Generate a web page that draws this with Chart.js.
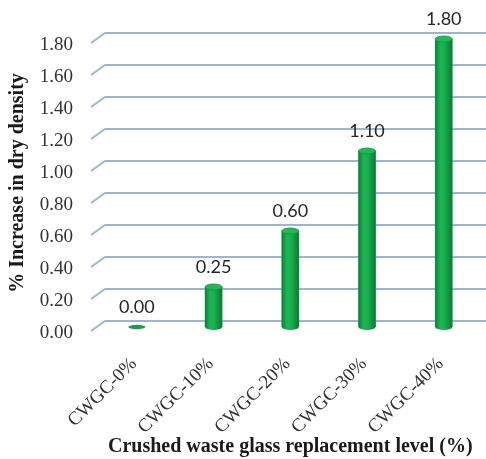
<!DOCTYPE html>
<html>
<head>
<meta charset="utf-8">
<script src="https://cdn.jsdelivr.net/npm/chart.js@4.4.1/dist/chart.umd.min.js"></script>
<style>
  html, body { margin: 0; padding: 0; background: #ffffff; }
  #wrap { width: 486px; height: 459px; }
</style>
</head>
<body>
<div id="wrap"><canvas id="c" width="486" height="459"></canvas></div>
<script>
// Dry density increase for each crushed waste glass replacement level
const categories = ['CWGC-0%', 'CWGC-10%', 'CWGC-20%', 'CWGC-30%', 'CWGC-40%'];
const densityIncrease = [0.00, 0.25, 0.60, 1.10, 1.80];
const yMin = 0;
const yMax = 1.8;
const yStep = 0.2;

const SERIF = '"Liberation Serif", "Times New Roman", serif';
const SANS = 'Lato, "Open Sans", sans-serif';

// Back-wall gridlines with the short receding stub at the left (3D floor look)
const wallGrid = {
  id: 'wallGrid',
  beforeDatasetsDraw(chart) {
    const { ctx, chartArea, scales } = chart;
    const ys = scales.y;
    ctx.save();
    ctx.strokeStyle = '#9db4d6';
    ctx.lineWidth = 2;
    ctx.lineJoin = 'round';
    ys.ticks.forEach(t => {
      const p = ys.getPixelForValue(t.value);
      const back = p - 6;
      ctx.beginPath();
      ctx.moveTo(chartArea.left - 7.5, p + 4);
      ctx.lineTo(chartArea.left + 6.5, back);
      ctx.lineTo(chart.width, back);
      ctx.stroke();
    });
    ctx.restore();
  }
};

// Shade each bar as a cylinder and label it with its value
const cylinders = {
  id: 'cylinders',
  afterDatasetsDraw(chart) {
    const { ctx } = chart;
    const meta = chart.getDatasetMeta(0);
    ctx.save();
    meta.data.forEach((el, i) => {
      const { x, y, base, width } = el.getProps(['x', 'y', 'base', 'width'], true);
      const rx = width / 2;
      const ry = 3;
      const g = ctx.createLinearGradient(x - rx, 0, x + rx, 0);
      g.addColorStop(0, '#0c8237');
      g.addColorStop(0.3, '#1cb653');
      g.addColorStop(0.55, '#19ae4d');
      g.addColorStop(1, '#0b7a33');
      if (Math.abs(base - y) > 0.5) {
        ctx.fillStyle = g;
        ctx.beginPath();
        ctx.moveTo(x - rx, y);
        ctx.lineTo(x - rx, base);
        ctx.ellipse(x, base, rx, ry, 0, Math.PI, 0, true);
        ctx.lineTo(x + rx, y);
        ctx.closePath();
        ctx.fill();
        ctx.fillStyle = '#1fb957';
        ctx.strokeStyle = '#11913f';
        ctx.lineWidth = 0.8;
        ctx.beginPath();
        ctx.ellipse(x, y, rx, ry, 0, 0, Math.PI * 2);
        ctx.fill();
        ctx.stroke();
      } else {
        ctx.fillStyle = '#14a147';
        ctx.beginPath();
        ctx.ellipse(x, base, rx, 2.2, 0, 0, Math.PI * 2);
        ctx.fill();
      }
      ctx.fillStyle = '#262626';
      ctx.font = '18px ' + SANS;
      ctx.textAlign = 'center';
      ctx.textBaseline = 'middle';
      ctx.fillText(densityIncrease[i].toFixed(2), x, y - 20);
    });
    ctx.restore();
  }
};

new Chart(document.getElementById('c'), {
  type: 'bar',
  data: {
    labels: categories,
    datasets: [{
      data: densityIncrease,
      backgroundColor: '#19ae4d',
      borderWidth: 0,
      barThickness: 17
    }]
  },
  options: {
    responsive: false,
    animation: false,
    devicePixelRatio: 1,
    layout: { padding: { top: 39, right: 1.4, left: 0, bottom: 0 } },
    plugins: { legend: { display: false }, tooltip: { enabled: false } },
    scales: {
      x: {
        grid: { display: false, drawTicks: false },
        border: { display: false },
        ticks: {
          color: '#333333',
          font: { family: SERIF, size: 19 },
          minRotation: 45,
          maxRotation: 45,
          padding: 26,
          labelOffset: -3
        },
        title: {
          display: true,
          text: 'Crushed waste glass replacement level (%)',
          color: '#1a1a1a',
          font: { family: SERIF, size: 20, weight: 'bold' },
          padding: { top: 0, bottom: 0 }
        },
        afterFit(s) { s.height = 132; }
      },
      y: {
        min: yMin,
        max: yMax,
        grid: { display: false, drawTicks: false },
        border: { display: false },
        ticks: {
          stepSize: yStep,
          color: '#333333',
          font: { family: SERIF, size: 19 },
          padding: 25.5,
          labelOffset: 6,
          callback: v => Number(v).toFixed(2)
        },
        title: {
          display: true,
          text: '% Increase in dry density',
          color: '#1a1a1a',
          font: { family: SERIF, size: 20, weight: 'bold' },
          padding: { top: 6, bottom: 0 }
        },
        afterFit(s) { s.width = 98.5; }
      }
    }
  },
  plugins: [wallGrid, cylinders]
});
</script>
</body>
</html>
